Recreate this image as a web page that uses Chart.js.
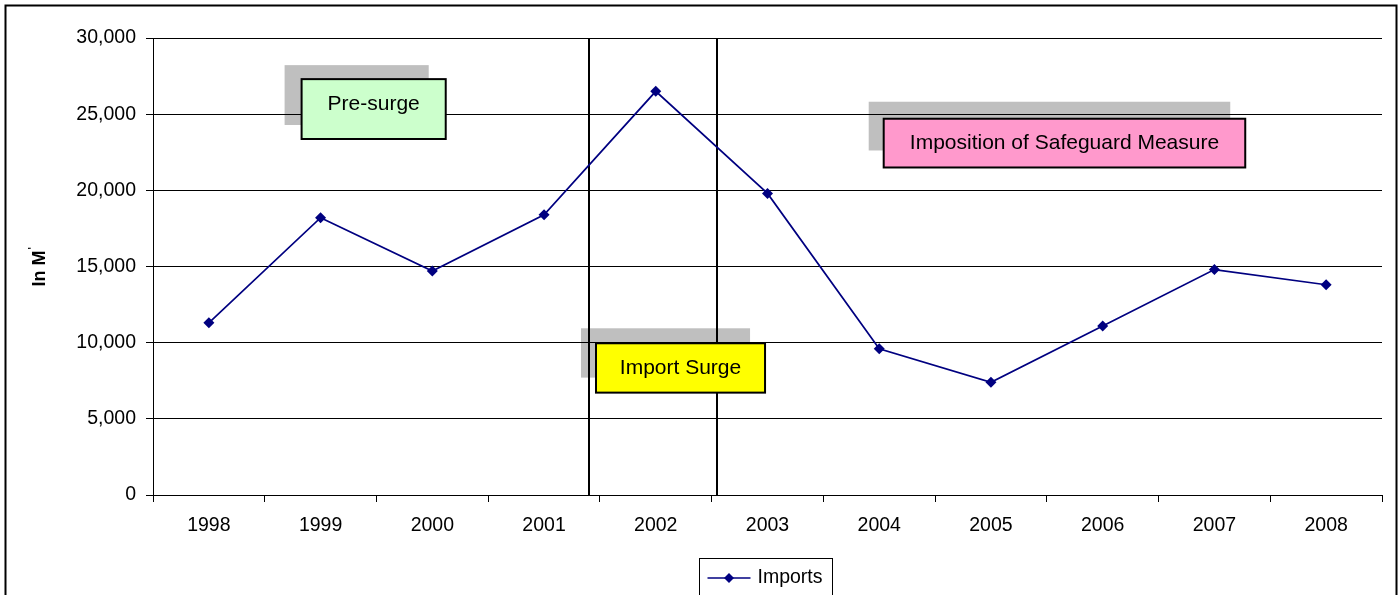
<!DOCTYPE html>
<html>
<head>
<meta charset="utf-8">
<title>Imports 1998-2008</title>
<script src="https://cdn.jsdelivr.net/npm/chart.js@4/dist/chart.umd.min.js"></script>
<style>
  html, body { margin: 0; padding: 0; background: #fff; }
  #wrap { width: 1400px; height: 595px; }
</style>
</head>
<body>
<div id="wrap"><canvas id="c" width="1400" height="595"></canvas></div>
<script>
// Yearly imports
const years = ['1998', '1999', '2000', '2001', '2002', '2003', '2004', '2005', '2006', '2007', '2008'];
const imports = [11300, 18200, 14700, 18400, 26500, 19800, 9600, 7400, 11100, 14800, 13800];

// Value axis
const yMin = 0;
const yMax = 30000;
const yStep = 5000;
const yTitle = 'In M';
const seriesName = 'Imports';

// Period dividers (category-index positions between years)
const periodDividers = [3.4, 4.55];

// Period callouts: label, x extent (category index), y extent (value)
const calloutLabels = ['Pre-surge', 'Import Surge', 'Imposition of Safeguard Measure'];
const calloutX = [[0.83, 2.12], [3.465, 4.978], [6.04, 9.276]];
const calloutY = [[27300, 23370], [9960, 6720], [24700, 21500]];
const calloutFill = ['#CCFFCC', '#FFFF00', '#FF99CC'];
const calloutShadow = [[-17, -14], [-15, -15], [-15, -17]];
const calloutTextDy = [-5, 0, 0];

const FONT = '"Liberation Sans", Arial, Helvetica, sans-serif';

const decorations = {
  id: 'decorations',
  beforeDatasetsDraw(chart) {
    const { ctx, chartArea: a, scales: { x, y } } = chart;
    ctx.save();
    // callout shadows
    ctx.fillStyle = 'rgba(0,0,0,0.25)';
    calloutLabels.forEach((_, i) => {
      const l = x.getPixelForValue(calloutX[i][0]);
      const r = x.getPixelForValue(calloutX[i][1]);
      const t = y.getPixelForValue(calloutY[i][0]);
      const b = y.getPixelForValue(calloutY[i][1]);
      ctx.fillRect(l + calloutShadow[i][0], t + calloutShadow[i][1], r - l, b - t);
    });
    // period divider lines
    ctx.strokeStyle = '#000';
    ctx.lineWidth = 2;
    periodDividers.forEach(v => {
      const px = Math.round(x.getPixelForValue(v));
      ctx.beginPath();
      ctx.moveTo(px, a.top);
      ctx.lineTo(px, a.bottom);
      ctx.stroke();
    });
    // callout boxes
    calloutLabels.forEach((label, i) => {
      const l = x.getPixelForValue(calloutX[i][0]);
      const r = x.getPixelForValue(calloutX[i][1]);
      const t = y.getPixelForValue(calloutY[i][0]);
      const b = y.getPixelForValue(calloutY[i][1]);
      ctx.fillStyle = calloutFill[i];
      ctx.fillRect(l, t, r - l, b - t);
      ctx.lineWidth = 2;
      ctx.strokeStyle = '#000';
      ctx.strokeRect(l, t, r - l, b - t);
      ctx.fillStyle = '#000';
      ctx.font = '21px ' + FONT;
      ctx.textAlign = 'center';
      ctx.textBaseline = 'middle';
      ctx.fillText(label, (l + r) / 2, (t + b) / 2 + calloutTextDy[i]);
    });
    ctx.restore();
  },
  afterDraw(chart) {
    const { ctx, chartArea: a } = chart;
    ctx.save();
    // axis title, rotated
    ctx.font = 'bold 18px ' + FONT;
    const w = ctx.measureText(yTitle).width;
    const midY = (a.top + a.bottom) / 2;
    ctx.translate(45, midY + (w + 4) / 2);
    ctx.rotate(-Math.PI / 2);
    ctx.fillStyle = '#000';
    ctx.textAlign = 'left';
    ctx.textBaseline = 'alphabetic';
    ctx.fillText(yTitle, 0, 0);
    ctx.font = 'bold 10px ' + FONT;
    ctx.fillText("'", w + 1, -9);
    ctx.restore();

    // legend
    ctx.save();
    const cx = (a.left + a.right) / 2 - 2;
    const lw = 133;
    const lx = Math.round(cx - lw / 2) + 0.5;
    const ly = 558.5;
    ctx.fillStyle = '#fff';
    ctx.fillRect(lx, ly, lw, 50);
    ctx.strokeStyle = '#000';
    ctx.lineWidth = 1;
    ctx.strokeRect(lx, ly, lw, 50);
    const my = 578;
    ctx.strokeStyle = '#000080';
    ctx.lineWidth = 1.5;
    ctx.beginPath();
    ctx.moveTo(lx + 8, my);
    ctx.lineTo(lx + 51, my);
    ctx.stroke();
    ctx.fillStyle = '#000080';
    const dx = lx + 29.5;
    ctx.beginPath();
    ctx.moveTo(dx, my - 5);
    ctx.lineTo(dx + 5, my);
    ctx.lineTo(dx, my + 5);
    ctx.lineTo(dx - 5, my);
    ctx.closePath();
    ctx.fill();
    ctx.fillStyle = '#000';
    ctx.font = '19.5px ' + FONT;
    ctx.textAlign = 'left';
    ctx.textBaseline = 'middle';
    ctx.fillText(seriesName, lx + 58, my);

    // chart frame
    ctx.strokeStyle = '#000';
    ctx.lineWidth = 2;
    ctx.strokeRect(5.5, 5.5, 1391, 640);
    ctx.restore();
  }
};

new Chart(document.getElementById('c'), {
  type: 'line',
  data: {
    labels: years,
    datasets: [{
      label: seriesName,
      data: imports,
      borderColor: '#000080',
      backgroundColor: '#000080',
      borderWidth: 1.7,
      pointStyle: 'rectRot',
      pointRadius: 5.5,
      pointHoverRadius: 5.5,
      pointBackgroundColor: '#000080',
      pointBorderColor: '#000080',
      pointBorderWidth: 0,
      tension: 0,
      fill: false
    }]
  },
  options: {
    responsive: false,
    animation: false,
    events: [],
    layout: { padding: { top: 38, right: 18, bottom: 40, left: 0 } },
    plugins: {
      legend: { display: false },
      tooltip: { enabled: false }
    },
    scales: {
      x: {
        offset: true,
        grid: { offset: true, drawOnChartArea: false, drawTicks: true, tickLength: 7, color: '#000', lineWidth: 1 },
        border: { display: true, color: '#000', width: 1 },
        ticks: { color: '#000', font: { family: FONT, size: 19.5 }, padding: 12, maxRotation: 0, autoSkip: false },
        afterFit(s) { s.height = 60; }
      },
      y: {
        min: yMin,
        max: yMax,
        grid: { color: '#000', lineWidth: 1, tickLength: 7, drawTicks: true },
        border: { display: true, color: '#000', width: 1 },
        ticks: {
          stepSize: yStep,
          color: '#000',
          font: { family: FONT, size: 19.5 },
          padding: 10,
          callback: v => Number(v).toLocaleString('en-US')
        },
        afterFit(s) { s.width = 153; }
      }
    }
  },
  plugins: [decorations]
});
</script>
</body>
</html>
